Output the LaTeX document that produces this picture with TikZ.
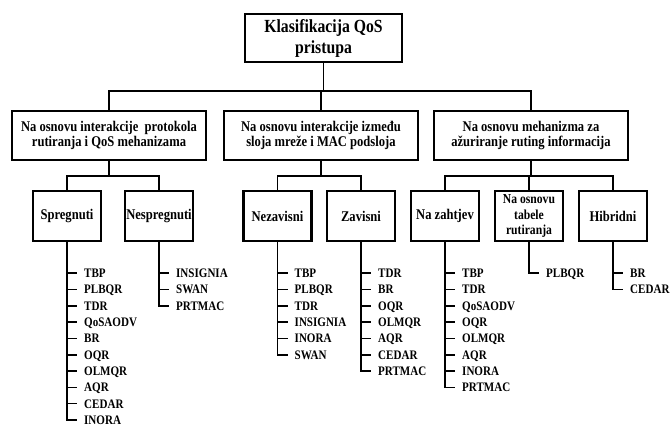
\documentclass[tikz,border=0pt]{standalone}
\usepackage{fontspec}
\setmainfont{Liberation Serif}[FakeStretch=0.85]
\usetikzlibrary{calc}

\tikzset{
  box/.style={draw, line width=2.4pt, align=center, inner sep=0pt,
    font=\bfseries\fontsize{14.8}{14.5}\selectfont},
  root/.style={box, minimum width=157pt, minimum height=48pt,
    font=\bfseries\fontsize{18.5}{21}\selectfont},
  group/.style={box, minimum width=194pt, minimum height=49pt},
  leaf/.style={box, minimum width=68pt, minimum height=50pt},
  item/.style={anchor=west, inner sep=0pt, text height=8.8pt, text depth=0pt,
    font=\bfseries\fontsize{13}{14}\selectfont},
  link/.style={line width=1.6pt},
}

% list of protocols hanging under a box: name, count, entries
\newcommand{\protlist}[3]{%
  \foreach \t [count=\i] in {#3}
    \node[item] (#1-\i) at ($(#1.south)+(17,31+16.3*\i-16.3)$) {\t};
  \draw[link] (#1.south) |- ([xshift=-7pt]#1-#2.west);
  \foreach \i in {1,...,#2}
    \draw[link] (#1.south |- #1-\i.west) -- ([xshift=-7pt]#1-\i.west);
}

\begin{document}
\begin{tikzpicture}[x=1pt,y=-1pt]
  \useasboundingbox[fill=white] (0,0) rectangle (670,425);

  % top
  \node[root] (qos) at (323.5,38) {Klasifikacija QoS\\pristupa};

  % three criteria
  \node[group] (inter) at (109,135.5) {Na osnovu interakcije~ protokola\\rutiranja i QoS mehanizama};
  \node[group] (sloj) at (321,135.5) {Na osnovu interakcije između\\sloja mreže i MAC podsloja};
  \node[group] (azur) at (531,135.5) {Na osnovu mehanizma za\\ažuriranje ruting informacija};

  \draw[link] (qos.south) -- ++(0,28) coordinate (bus);
  \draw[link] (inter.north) |- (bus) -| (azur.north);
  \draw[link] (sloj.north) -- (sloj.north |- bus);

  % classes
  \node[leaf] (spreg) at (67,216) {Spregnuti};
  \node[leaf] (nespreg) at (159,216) {Nespregnuti};
  \node[leaf] (nezav) at (277.5,216) {Nezavisni};
  \node[leaf] (zav) at (361,216) {Zavisni};
  \node[leaf] (zaht) at (445,216) {Na zahtjev};
  \node[leaf, font=\bfseries\fontsize{13.7}{15.5}\selectfont] (tabel) at (529,216) {Na osnovu\\tabele\\rutiranja};
  \node[leaf] (hibr) at (613,216) {Hibridni};

  \draw[link] (inter.south) -- ++(0,15) coordinate (bus1);
  \draw[link] (spreg.north) |- (bus1) -| (nespreg.north);
  \draw[link] (sloj.south) -- ++(0,15) coordinate (bus2);
  \draw[link] (nezav.north) |- (bus2) -| (zav.north);
  \draw[link] (azur.south) -- ++(0,15) coordinate (bus3);
  \draw[link] (zaht.north) |- (bus3) -| (hibr.north);
  \draw[link] (tabel.north) -- (tabel.north |- bus3);

  % protocols
  \protlist{spreg}{10}{TBP,PLBQR,TDR,QoSAODV,BR,OQR,OLMQR,AQR,CEDAR,INORA}
  \protlist{nespreg}{3}{INSIGNIA,SWAN,PRTMAC}
  \protlist{nezav}{6}{TBP,PLBQR,TDR,INSIGNIA,INORA,SWAN}
  \protlist{zav}{7}{TDR,BR,OQR,OLMQR,AQR,CEDAR,PRTMAC}
  \protlist{zaht}{8}{TBP,TDR,QoSAODV,OQR,OLMQR,AQR,INORA,PRTMAC}
  \protlist{tabel}{1}{PLBQR}
  \protlist{hibr}{2}{BR,CEDAR}
\end{tikzpicture}
\end{document}
